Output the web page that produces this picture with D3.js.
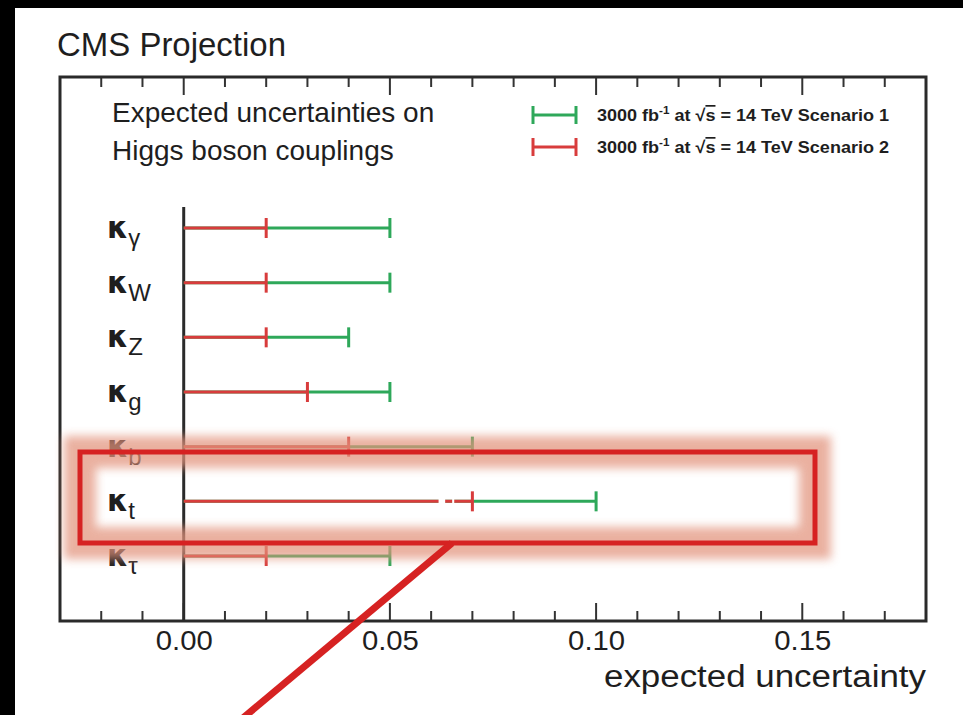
<!DOCTYPE html>
<html>
<head>
<meta charset="utf-8">
<script src="https://cdn.jsdelivr.net/npm/d3@7"></script>
<style>
  html, body { margin: 0; padding: 0; background: #000; }
  svg { display: block; }
  text { font-family: "Liberation Sans", Arial, sans-serif; fill: #1e1e1e; }
</style>
</head>
<body>
<svg id="chart" width="963" height="715"></svg>
<script>
// Coupling modifiers (subscripts of kappa), top to bottom
const couplings = ["γ", "W", "Z", "g", "b", "t", "τ"];
// Expected uncertainty, 3000 fb^-1 at 14 TeV
const scenario1 = [0.05, 0.05, 0.04, 0.05, 0.07, 0.10, 0.05];
const scenario2 = [0.02, 0.02, 0.02, 0.03, 0.04, 0.07, 0.02];
// Small breaks visible on the kappa_t scenario 2 line
const ktGaps = [[0.0618, 0.0634], [0.0651, 0.0656]];
const xTicks = [0.00, 0.05, 0.10, 0.15];
const xDomain = [-0.03, 0.18];
const seriesNames = ["Scenario 1", "Scenario 2"];
const seriesColors = ["#2ea85a", "#d83c3c"];

const svg = d3.select("#chart");

// page background (black border on left and top, white sheet)
svg.append("rect").attr("x", 0).attr("y", 0).attr("width", 963).attr("height", 715).attr("fill", "#000");
svg.append("rect").attr("x", 15).attr("y", 8).attr("width", 948).attr("height", 707).attr("fill", "#fff");

const frame = { left: 60, right: 926, top: 77, bottom: 621 };

const x = d3.scaleLinear().domain(xDomain).range([frame.left, frame.right]);
const y = d3.scaleLinear().domain([0, couplings.length - 1]).range([228, 556]);

// title
svg.append("text").attr("x", 57).attr("y", 56)
  .attr("font-size", 33).attr("textLength", 229).attr("lengthAdjust", "spacingAndGlyphs")
  .text("CMS Projection");

// axis ticks: majors every 0.05, minors every 0.01, on bottom and top edges
const minorTicks = d3.range(-0.03, 0.1801, 0.01).map(v => +v.toFixed(2));
const isMajor = v => Math.abs(Math.round(v / 0.05) * 0.05 - v) < 1e-6;

const bottomAxis = d3.axisBottom(x).tickValues(xTicks).tickFormat(d3.format(".2f")).tickSize(0).tickPadding(8);
const gAxis = svg.append("g").attr("transform", `translate(0,${frame.bottom})`).call(bottomAxis);
gAxis.select(".domain").remove();
gAxis.selectAll("text")
  .attr("font-size", 28).attr("font-family", "Liberation Sans, Arial, sans-serif")
  .attr("fill", "#1e1e1e").attr("dy", "0.75em")
  .attr("textLength", 57).attr("lengthAdjust", "spacingAndGlyphs");

const tickG = svg.append("g").attr("stroke", "#333").attr("stroke-width", 2);
minorTicks.forEach(v => {
  const len = isMajor(v) ? 18 : 10;
  tickG.append("line").attr("x1", x(v)).attr("x2", x(v))
    .attr("y1", frame.bottom).attr("y2", frame.bottom - len);
  tickG.append("line").attr("x1", x(v)).attr("x2", x(v))
    .attr("y1", frame.top).attr("y2", frame.top + len);
});

// frame
svg.append("rect").attr("x", frame.left).attr("y", frame.top)
  .attr("width", frame.right - frame.left).attr("height", frame.bottom - frame.top)
  .attr("fill", "none").attr("stroke", "#2a2a2a").attr("stroke-width", 3);

// x axis title
svg.append("text").attr("x", frame.right).attr("y", 687).attr("text-anchor", "end")
  .attr("font-size", 31).attr("textLength", 322).attr("lengthAdjust", "spacingAndGlyphs")
  .text("expected uncertainty");

// vertical line at zero
svg.append("line").attr("x1", x(0)).attr("x2", x(0))
  .attr("y1", 207).attr("y2", frame.bottom)
  .attr("stroke", "#2a2a2a").attr("stroke-width", 3);

// header text inside the frame
svg.append("text").attr("x", 112).attr("y", 122).attr("font-size", 28).text("Expected uncertainties on");
svg.append("text").attr("x", 112).attr("y", 160).attr("font-size", 28).text("Higgs boson couplings");

// legend
const legY = [115, 147];
seriesNames.forEach((name, i) => {
  const g = svg.append("g").attr("stroke", seriesColors[i]).attr("stroke-width", 3);
  g.append("line").attr("x1", 533).attr("x2", 576).attr("y1", legY[i]).attr("y2", legY[i]);
  g.append("line").attr("x1", 533).attr("x2", 533).attr("y1", legY[i] - 9).attr("y2", legY[i] + 9);
  g.append("line").attr("x1", 576).attr("x2", 576).attr("y1", legY[i] - 9).attr("y2", legY[i] + 9);
  const t = svg.append("text").attr("x", 597).attr("y", legY[i] + 6).attr("font-size", 17)
    .attr("font-weight", "bold").attr("fill", "#333")
    .attr("textLength", 292).attr("lengthAdjust", "spacingAndGlyphs");
  t.append("tspan").text("3000 fb");
  t.append("tspan").attr("font-size", 11).attr("dy", -7).text("-1");
  t.append("tspan").attr("dy", 7).text(" at  √");
  t.append("tspan").attr("text-decoration", "overline").text("s");
  t.append("tspan").text(" = 14 TeV " + name);
});

// y labels: kappa with subscript
couplings.forEach((c, i) => {
  const t = svg.append("text").attr("x", 107).attr("y", y(i) + 10);
  t.append("tspan").attr("font-family", "DejaVu Sans, sans-serif").attr("font-weight", "bold")
    .attr("font-size", 30).text("κ");
  t.append("tspan").attr("font-size", 24).attr("dy", 8).text(c);
});

// bars: each scenario drawn from zero to its value with an end cap
const capH = 20;
[scenario1, scenario2].forEach((vals, s) => {
  const g = svg.append("g").attr("stroke", seriesColors[s]).attr("stroke-width", 3);
  vals.forEach((v, i) => {
    g.append("line").attr("x1", x(0)).attr("x2", x(v)).attr("y1", y(i)).attr("y2", y(i));
    g.append("line").attr("x1", x(v)).attr("x2", x(v)).attr("y1", y(i) - capH / 2).attr("y2", y(i) + capH / 2);
  });
});
// breaks on the kappa_t line
const ktIndex = couplings.indexOf("t");
ktGaps.forEach(([a, b]) => {
  svg.append("rect").attr("x", x(a)).attr("y", y(ktIndex) - 3)
    .attr("width", x(b) - x(a)).attr("height", 6).attr("fill", "#fff");
});

// highlight box around kappa_t with soft glow
const defs = svg.append("defs");
defs.append("filter").attr("id", "glow").attr("x", "-10%").attr("y", "-50%").attr("width", "120%").attr("height", "200%")
  .append("feGaussianBlur").attr("stdDeviation", 5);

const box = { x0: 80, x1: 815, y0: 452, y1: 543 };
svg.append("rect").attr("x", box.x0).attr("y", box.y0)
  .attr("width", box.x1 - box.x0).attr("height", box.y1 - box.y0)
  .attr("fill", "none").attr("stroke", "#e2937c").attr("stroke-width", 32)
  .attr("opacity", 0.72).attr("filter", "url(#glow)");
svg.append("rect").attr("x", box.x0).attr("y", box.y0)
  .attr("width", box.x1 - box.x0).attr("height", box.y1 - box.y0)
  .attr("fill", "none").attr("stroke", "#d62222").attr("stroke-width", 5);

// pointer line leaving the box
svg.append("line").attr("x1", 452).attr("y1", box.y1)
  .attr("x2", 243).attr("y2", 718)
  .attr("stroke", "#d62222").attr("stroke-width", 7);
</script>
</body>
</html>
